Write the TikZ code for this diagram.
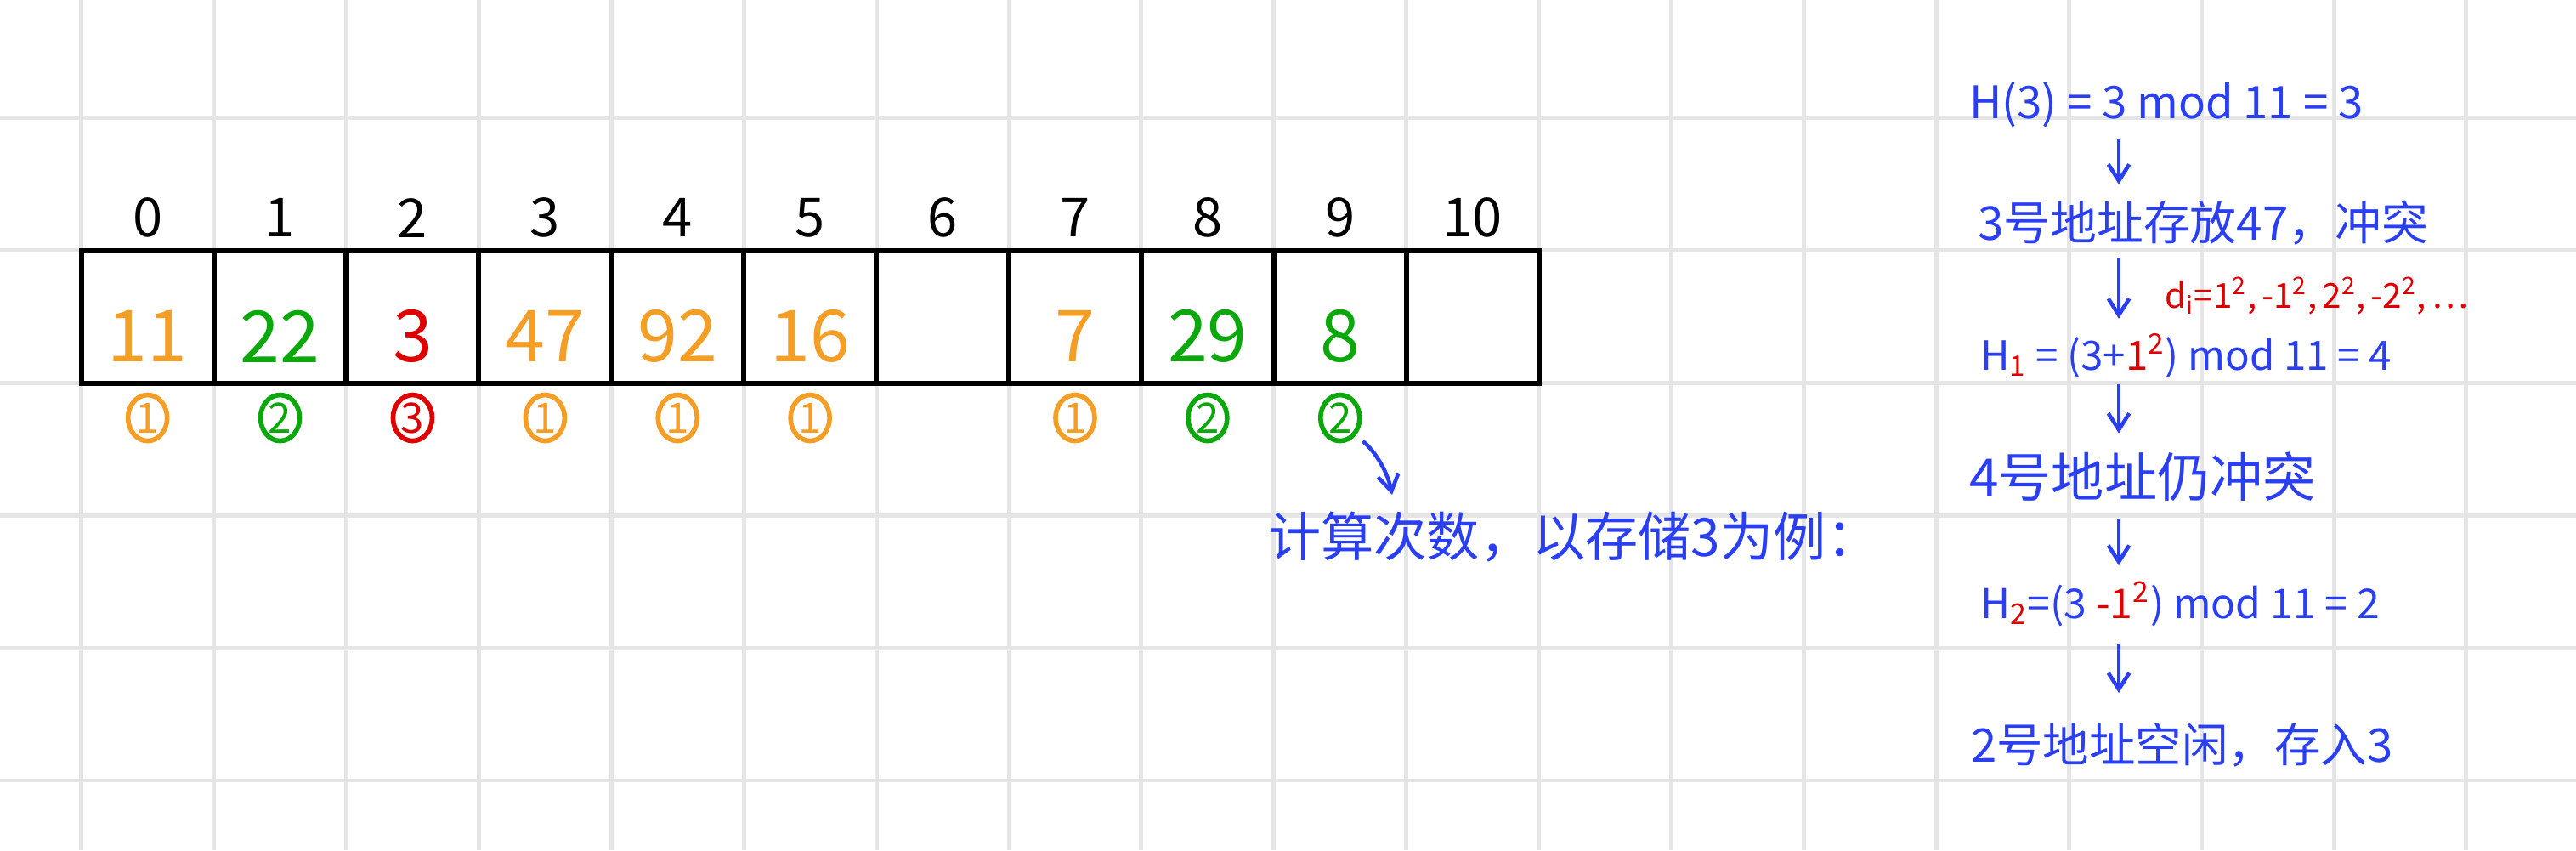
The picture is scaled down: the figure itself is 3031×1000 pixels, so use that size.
\documentclass[tikz,border=0pt]{standalone}
\usepackage{fontspec}
\setmainfont{Noto Sans CJK SC}
\usetikzlibrary{arrows.meta,shapes.geometric,calc}
\definecolor{pblue}{RGB}{43,63,242}
\definecolor{porange}{RGB}{245,158,38}
\definecolor{pgreen}{RGB}{10,168,10}
\definecolor{pred}{RGB}{222,0,0}
\definecolor{pgrid}{RGB}{229,229,229}
\newcommand{\rd}[1]{\textcolor{pred}{#1}}
\begin{document}
\begin{tikzpicture}[x=0.01cm,y=-0.01cm,
  gridline/.style={draw=pgrid,line width=1.4pt},
  cell/.style={draw=black,line width=1.7pt,minimum width=1.559cm,minimum height=1.558cm,inner sep=0pt,outer sep=0pt},
  idx/.style={font=\fontsize{18}{20}\selectfont,inner sep=0pt},
  val/.style={font=\fontsize{24}{26}\selectfont,inner sep=0pt},
  cnt/.style={ellipse,line width=1.6pt,minimum width=0.46cm,minimum height=0.54cm,inner sep=0pt,font=\fontsize{14}{15}\selectfont},
  note/.style={text=pblue,inner sep=0pt,outer sep=0pt,anchor=base west},
  arr/.style={draw=pblue,line width=1.3pt,-{Straight Barb[length=5.5pt,width=7pt]}},
]
\fill[white] (0,0) rectangle (3031,1000);
\useasboundingbox (0,0) rectangle (3031,1000);
% grid
\foreach \k in {0,...,18} \draw[gridline] ({95.7+155.9*\k},0) -- ({95.7+155.9*\k},1000);
\foreach \k in {0,...,5} \draw[gridline] (0,{139+155.8*\k}) -- (3031,{139+155.8*\k});
% table
\foreach \i in {0,...,10} \node[cell] (c\i) at ({173.65+155.9*\i},372.7) {};
\foreach \i in {0,...,10} \node[idx] (i\i) at ([yshift=11pt]c\i.north) {\i};
\foreach \i/\v/\c in {0/11/porange,1/22/pgreen,2/3/pred,3/47/porange,4/92/porange,5/16/porange,7/7/porange,8/29/pgreen,9/8/pgreen}
  \node[val,text=\c] (v\i) at ([yshift=-6.5pt]c\i.center) {\v};
\foreach \i/\n/\c in {0/1/porange,1/2/pgreen,2/3/pred,3/1/porange,4/1/porange,5/1/porange,7/1/porange,8/2/pgreen,9/2/pgreen}
  \node[cnt,draw=\c,text=\c] (n\i) at ([yshift=-33.8pt]c\i.center) {\n};
% middle note
\node[note,font=\fontsize{17.7}{20}\selectfont] (t1) at (1492,654) {计算次数，以存储3为例：};
\coordinate (tip) at (1638,582);
\draw[arr,shorten <=3pt] (n9.south east) .. controls +(20,15) and +(-6,-30) .. (tip);
% right column
\coordinate (ax) at (2493,0);
\node[note,font=\fontsize{15}{18}\selectfont,text height=12pt,text depth=6.8pt] (h0) at (2317,139) {H(3) = 3 mod 11 = 3};
\node[note,font=\fontsize{15.6}{18}\selectfont,text height=18.5pt,text depth=6pt] (s1) at (2327,282) {3号地址存放47，冲突};
\node[note,text=pred,font=\fontsize{11.5}{13}\selectfont] (d) at (2547,362) {d\textsubscript{i}=1\textsuperscript{2},\hspace{0.15em}-1\textsuperscript{2},\hspace{0.15em}2\textsuperscript{2},\hspace{0.15em}-2\textsuperscript{2},\hspace{0.15em}…};
\node[note,font=\fontsize{13.5}{16}\selectfont,text height=17.1pt,text depth=4.8pt] (h1) at (2330,435) {H\textsubscript{\rd{1}} = (3+\rd{1\textsuperscript{2}}) mod 11 = 4};
\node[note,font=\fontsize{17.7}{20}\selectfont,text height=21.1pt,text depth=7.4pt] (s2) at (2317,584) {4号地址仍冲突};
\node[note,font=\fontsize{13.7}{16}\selectfont,text height=17.6pt,text depth=8.5pt] (h2) at (2330,727) {H\textsubscript{\rd{2}}=(3 \rd{-1\textsuperscript{2}}) mod 11 = 2};
\node[note,font=\fontsize{15.5}{18}\selectfont,text height=23pt,text depth=3pt] (s3) at (2319,896) {2号地址空闲，存入3};
\draw[arr] (h0.south -| ax) -- (s1.north -| ax);
\draw[arr] (s1.south -| ax) -- (h1.north -| ax);
\draw[arr] (h1.south -| ax) -- (s2.north -| ax);
\draw[arr] (s2.south -| ax) -- (h2.north -| ax);
\draw[arr] (h2.south -| ax) -- (s3.north -| ax);
\end{tikzpicture}
\end{document}
